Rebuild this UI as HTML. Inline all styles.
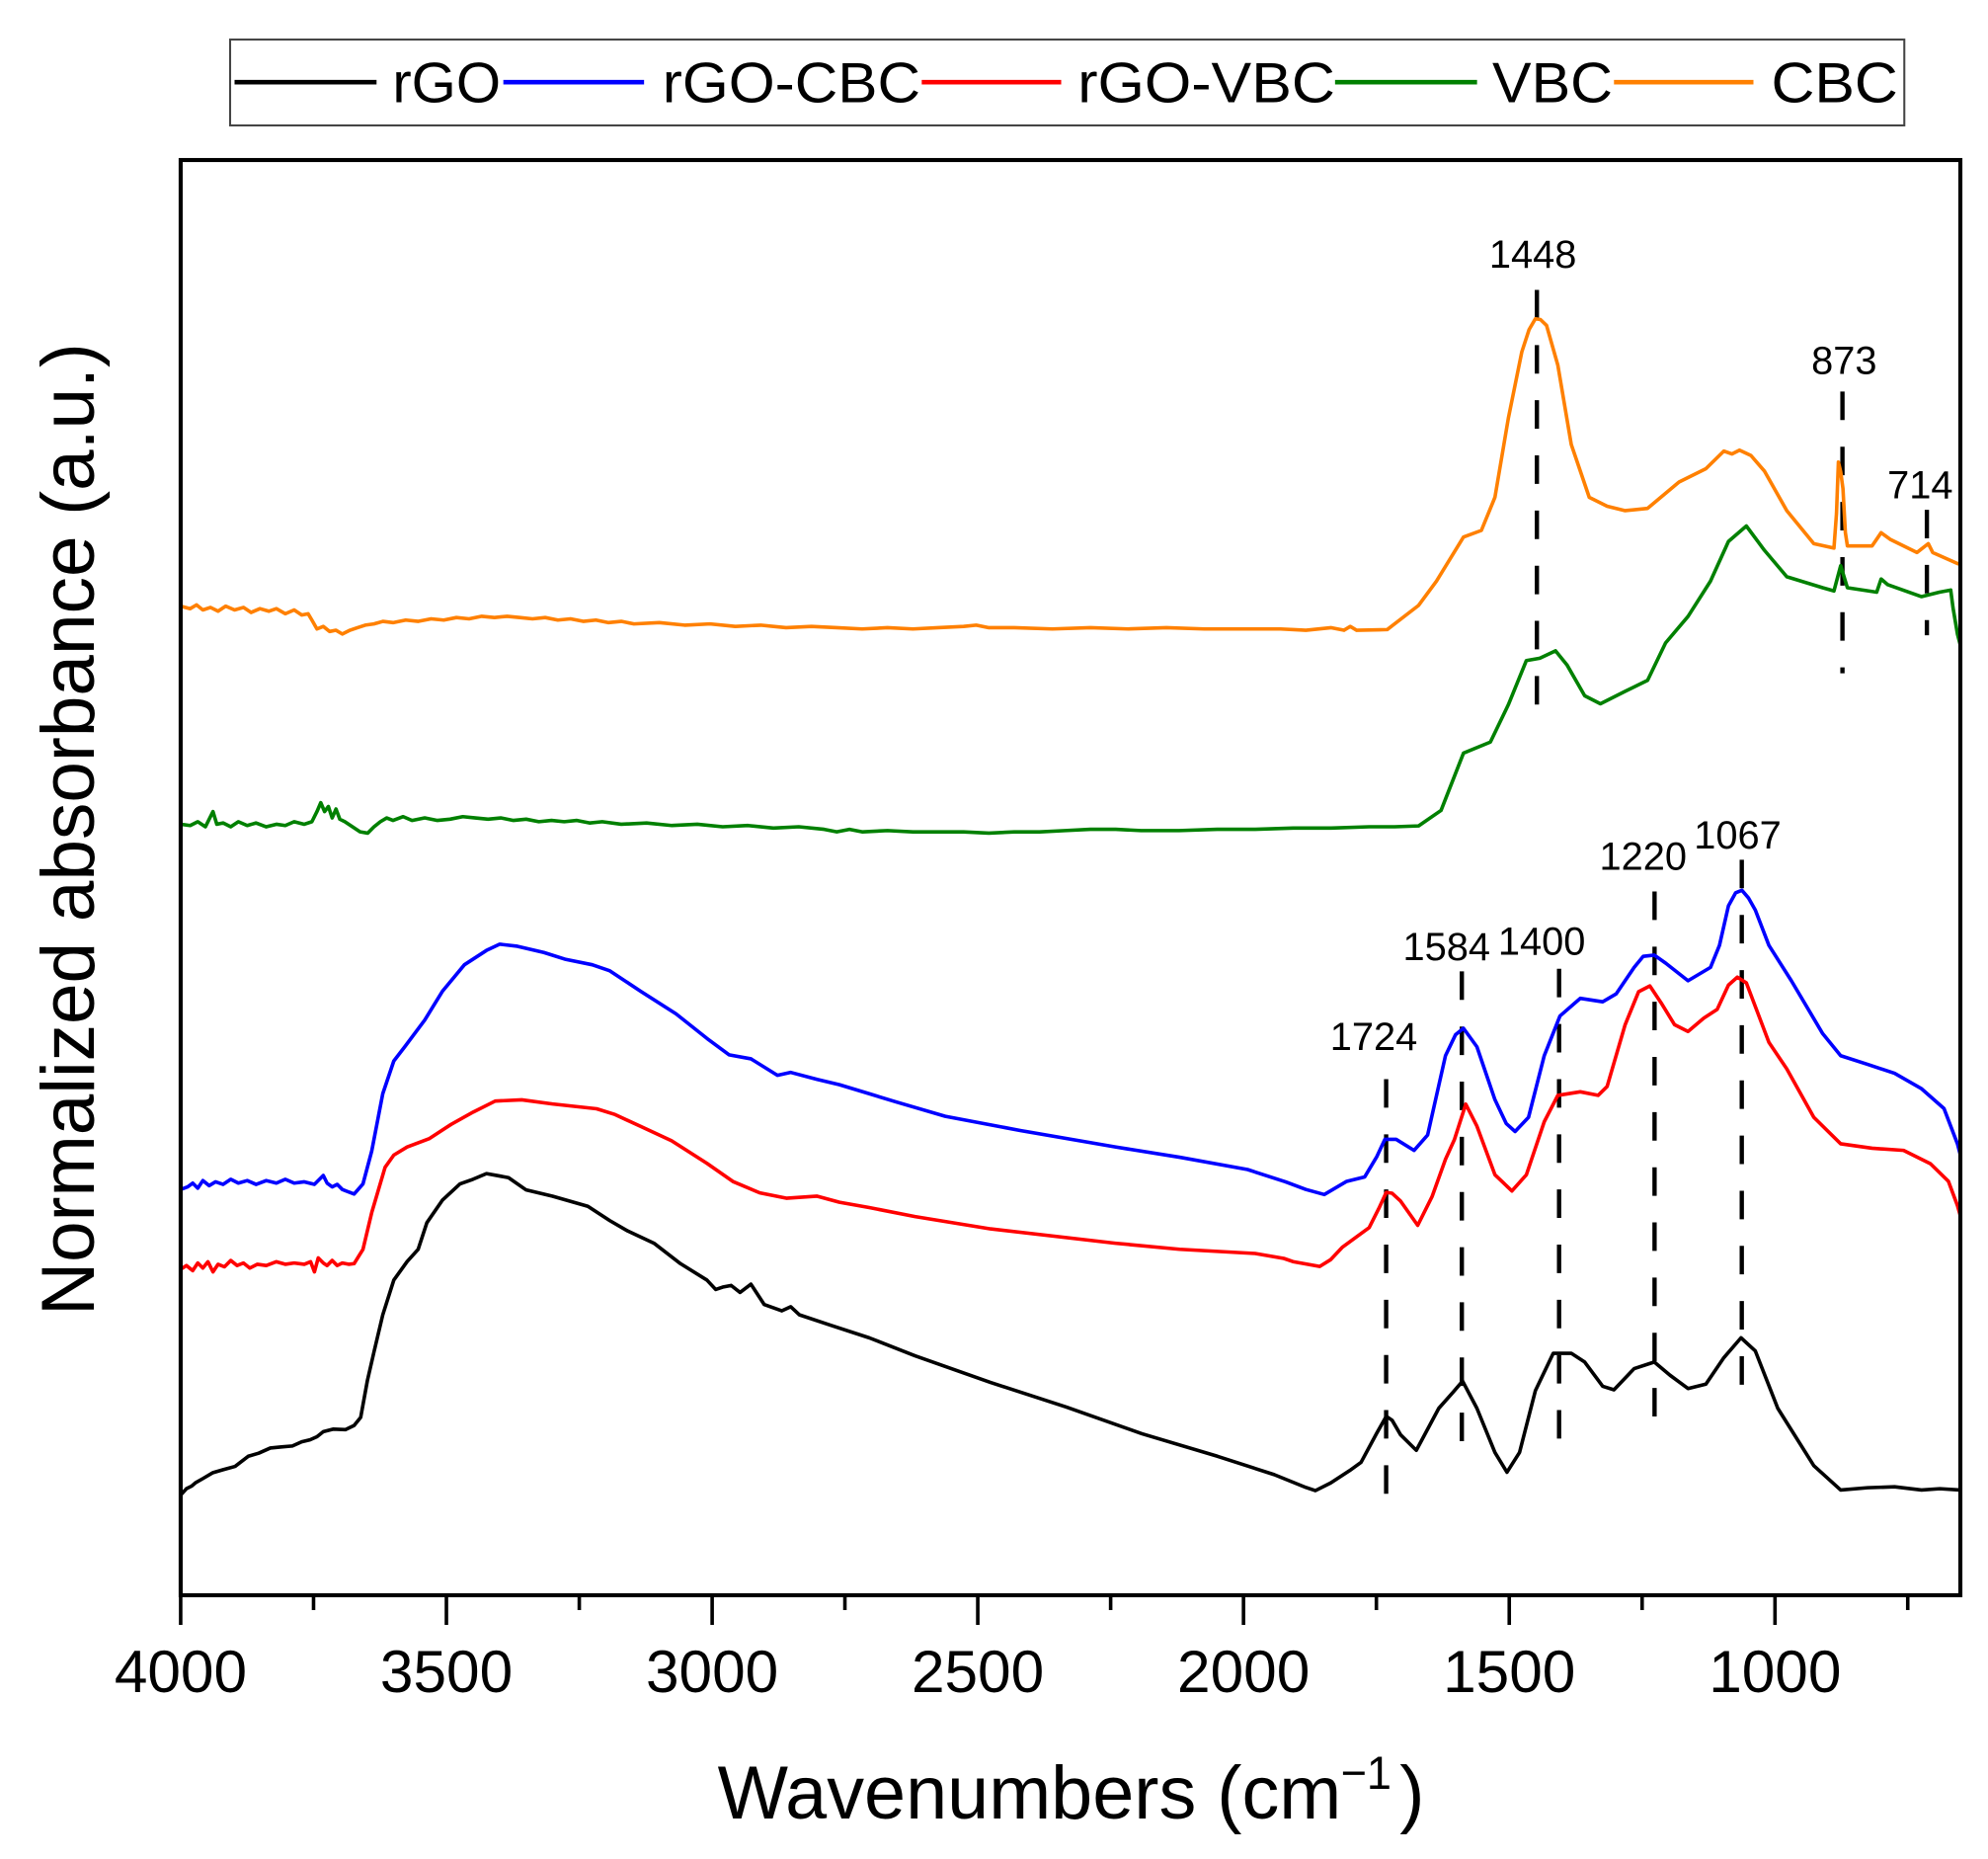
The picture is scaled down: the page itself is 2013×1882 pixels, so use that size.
<!DOCTYPE html>
<html>
<head>
<meta charset="utf-8">
<style>
  html, body { margin: 0; padding: 0; background: #ffffff; }
  svg { display: block; }
  text { font-family: "Liberation Sans", Arial, sans-serif; fill: #000; }
</style>
</head>
<body>
<svg xmlns="http://www.w3.org/2000/svg" width="2013" height="1882" viewBox="0 0 1568 1466" preserveAspectRatio="none">
  <rect x="0" y="0" width="1568" height="1466" fill="#ffffff"/>

  <!-- Legend -->
  <rect x="181.5" y="31.2" width="1320.5" height="67.7" fill="#ffffff" stroke="#444" stroke-width="1.6"/>
  <g stroke-width="3.6" stroke-linecap="butt">
    <line x1="185" y1="64.8" x2="297" y2="64.8" stroke="#000000"/>
    <line x1="397" y1="64.8" x2="508" y2="64.8" stroke="#0000ff"/>
    <line x1="727" y1="64.8" x2="837" y2="64.8" stroke="#ff0000"/>
    <line x1="1053" y1="64.8" x2="1165" y2="64.8" stroke="#008000"/>
    <line x1="1273" y1="64.8" x2="1383" y2="64.8" stroke="#ff8000"/>
  </g>
  <g font-size="45">
    <text x="309.5" y="80.5" textLength="85.5" lengthAdjust="spacingAndGlyphs">rGO</text>
    <text x="522.5" y="80.5" textLength="203.5" lengthAdjust="spacingAndGlyphs">rGO-CBC</text>
    <text x="850" y="80.5" textLength="203" lengthAdjust="spacingAndGlyphs">rGO-VBC</text>
    <text x="1177" y="80.5" textLength="95" lengthAdjust="spacingAndGlyphs">VBC</text>
    <text x="1397" y="80.5" textLength="100" lengthAdjust="spacingAndGlyphs">CBC</text>
  </g>

  <!-- Dashed peak markers -->
  <g stroke="#000" stroke-width="3.4" stroke-dasharray="22.5 21" fill="none">
    <line x1="1212.2" y1="228.6" x2="1212.2" y2="558"/>
    <line x1="1453.2" y1="308.8" x2="1453.2" y2="531"/>
    <line x1="1519.8" y1="402" x2="1519.8" y2="501"/>
    <line x1="1093.3" y1="851" x2="1093.3" y2="1181"/>
    <line x1="1153" y1="766" x2="1153" y2="1139"/>
    <line x1="1229.7" y1="764" x2="1229.7" y2="1137"/>
    <line x1="1305" y1="703" x2="1305" y2="1135"/>
    <line x1="1373.8" y1="678" x2="1373.8" y2="1096"/>
  </g>

  <!-- Peak labels -->
  <g font-size="31" text-anchor="middle">
    <text x="1209" y="211">1448</text>
    <text x="1454.5" y="295">873</text>
    <text x="1514.5" y="393">714</text>
    <text x="1296" y="686">1220</text>
    <text x="1370.5" y="669">1067</text>
    <text x="1141" y="757">1584</text>
    <text x="1216" y="753">1400</text>
    <text x="1083.5" y="828">1724</text>
  </g>

  <!-- Spectra -->
  <g fill="none" stroke-width="2.8" stroke-linejoin="round" stroke-linecap="round">
    <!-- CBC (orange) -->
    <path stroke="#ff8000" d="M142.5,478 L150,480 155,477 160,481 166,479 172,482 178,478 185,481 192,479 198,483 205,480 212,482 218,480 225,484 232,481 238,485 243,484 246,489 250,496 255,494 260,498 265,497 270,500 276,497 282,495 288,493 295,492 302,490 310,491 320,489 330,490 340,488 350,489 360,487 370,488 380,486 390,487 400,486 410,487 420,488 430,487 440,489 450,488 460,490 470,489 480,491 490,490 500,492 520,491 540,493 560,492 580,494 600,493 620,495 640,494 660,495 680,496 700,495 720,496 740,495 760,494 770,493 780,495 800,495 830,496 860,495 890,496 920,495 950,496 980,496 1010,496 1030,497 1050,495 1060,497 1065,494 1070,497 1094.1,496.5 1118.9,477.4 1133,458.3 1154.3,423.5 1168.4,418.3 1179.1,392.2 1189.7,329.7 1200.3,277.5 1206,260 1211,251.4 1215,252 1219.8,256.6 1228.7,287.9 1239.3,350.5 1253.5,392.2 1267.6,399.2 1281.8,402.7 1299.5,400.9 1324.3,380.1 1345.5,369.6 1359.7,355.7 1366,358 1372,355 1381,359.2 1391.6,371.4 1409.3,402.7 1430.6,428.7 1446.5,432.2 1448.5,405 1450,364.4 1451.8,372 1453.6,385.3 1455.5,420 1457.1,430.5 1476.6,430.5 1483.7,420.1 1490.8,425.3 1512,435.7 1520.9,428.7 1524.4,435.7 1543.9,444.4 1546,445"/>
    <!-- VBC (green) -->
    <path stroke="#008000" d="M142.5,650 L150,651 156,648 162,652 168,640 171,650 176,649 182,652 188,648 195,651 202,649 210,652 218,650 225,651 232,648 240,650 246,648 250,640 253,633 256,640 259,636 262,645 265,638 268,646 272,648 278,652 284,656 290,657 295,652 300,648 305,645 310,647 318,644 325,647 335,645 345,647 355,646 365,644 375,645 385,646 395,645 405,647 415,646 425,648 435,647 445,648 455,647 465,649 475,648 490,650 510,649 530,651 550,650 570,652 590,651 610,653 630,652 650,654 660,656 670,654 680,656 700,655 720,656 740,656 760,656 780,657 800,656 820,656 840,655 860,654 880,654 900,655 930,655 960,654 990,654 1020,653 1050,653 1080,652 1100,652 1118.9,651.3 1136.6,639.1 1154.3,593.9 1175.5,585.2 1189.7,555.7 1203.9,520.9 1214.5,519.1 1226.9,513.2 1235.9,524.3 1249.9,548.7 1262.3,555 1281.8,545.2 1299.5,536.5 1313.7,507 1331.4,486.1 1349.1,458.3 1363.3,427 1377.4,414.8 1391.6,433.9 1409.3,454.8 1437.6,463.5 1446.5,466 1451.8,446.1 1457.1,463.5 1480.2,467 1483.7,456.6 1489,461.1 1515.6,470.5 1529.7,467 1538.6,465.3 1540.4,479.2 1543.9,500 1546,508"/>
    <!-- rGO-CBC (blue) -->
    <path stroke="#0000ff" d="M142.5,938 L148,936 152,933 156,937 160,931 165,935 170,932 176,934 182,930 188,933 195,931 202,934 210,931 218,933 225,930 232,933 240,932 248,934 252,930 255,927 258,933 262,936 266,934 270,938 275,940 279.3,941.6 286.3,933.6 293.2,907.7 301.9,862.5 310.6,836.7 319.3,825.4 335,804.4 348.9,781.8 366.3,760.8 383.7,749.5 394.1,744.6 408,746.2 428.9,751.1 446.3,756.6 467.1,760.8 481,765.6 505.4,781.8 533.2,799.5 557.6,818.9 575,831.8 592.3,835 613.2,848 623.7,845.7 644.5,851.2 662.1,855.4 685.6,862.5 706.8,869 745.6,880.3 805.2,891.6 879.7,904.5 930.4,912.6 984,922.3 1013.9,932 1030,938 1044.5,942 1062.2,931.6 1076.4,928.1 1086,912 1092.3,898.5 1101.2,898.5 1115.3,907.2 1126,895.1 1140.1,832.5 1148,816 1154.3,810.9 1164.9,825.5 1179.1,867.2 1188,886 1195,892.3 1205.6,881.1 1218,832.5 1230.4,801.2 1246.4,787.3 1264.1,790 1274.7,783.8 1288.9,762.9 1296,754.2 1304.8,753.2 1313.7,759.5 1331.4,773.4 1349.1,762.9 1356.2,745.5 1363.3,714.3 1369,704 1373.9,702.1 1379,708 1384.5,717.7 1395.2,745.5 1412.9,773.4 1437.6,815.1 1451.8,832.5 1473.1,839.4 1494.3,846.4 1515.6,858.6 1533.3,874.2 1543.9,902 1546,910"/>
    <!-- rGO-VBC (red) -->
    <path stroke="#ff0000" d="M142.5,1001 L147,998 152,1002 156,996 160,1000 164,995 168,1003 172,997 177,999 182,994 187,998 192,996 197,1000 203,997 210,998 218,995 225,997 232,996 240,997 245,995 248,1003 251,992 255,996 258,998 262,994 266,998 270,996 275,997 279.3,996.5 286.3,985.2 293.2,956.2 303.7,920.6 310.6,910.9 321.1,904.5 338.4,898 355.8,886.7 373.2,877 390.6,868.3 411.5,867.3 435.8,870.6 470.6,874.4 484.5,878.7 505.4,888.3 529.7,899.6 557.6,917.4 578.4,931.9 599.3,940.7 620.2,944.9 644.5,943.3 662.1,948.1 685.6,952.3 721.7,959.4 781.3,969.1 879.7,980.4 930.4,985.2 990,988.5 1012.6,992.4 1019.8,994.9 1040.9,998.7 1049.6,993.3 1058.6,983.7 1079.9,968.1 1088,952 1093.4,940.3 1098,941 1104.7,947.2 1118.2,966.3 1129.5,943.7 1140.1,914.2 1147.2,898.5 1156.1,870.7 1164.9,888.1 1179.1,926.4 1192.5,939.2 1203.9,926.4 1218,884.6 1228.7,863.8 1246.4,861 1260.5,863.8 1267.6,856.8 1281.8,808.1 1292.4,782.1 1301.3,777.5 1310.1,790.7 1320.8,808.1 1331.4,813.4 1343.8,802.9 1354.4,796 1363.3,776.8 1370.3,770.6 1377.4,775.1 1395.2,822 1409.3,842.9 1430.6,881.1 1451.8,902 1476.6,905.5 1501.4,907.2 1522.6,917.7 1536.8,931.6 1543.9,950.7 1546,958"/>
    <!-- rGO (black) -->
    <path stroke="#000000" d="M142.5,1179 L147,1174 151,1172 154.1,1169.4 160,1166 168,1161.3 176,1159 185.4,1156.4 195.8,1148.4 204,1146 213.2,1141.9 222,1141 230.6,1140.3 238,1137 244.5,1135.4 250,1133 255,1129 263,1127 272.4,1127.4 279.3,1124.1 284.5,1117.7 289.8,1088.6 295,1066 301.9,1036.9 310.6,1009.5 321.1,994.9 329.8,985.2 336.7,964.2 348.9,946.5 362.8,933.6 373,930 383.7,925.5 392,927 401.1,928.7 415,938.4 435.8,943.3 463.7,951.3 481,962.6 495,970.7 515.8,980.4 536.7,996.5 557.6,1009.5 564.5,1016.9 570,1015 576.7,1013.7 583.7,1019.2 592.3,1012.7 602.8,1028.8 616.7,1033.7 623.7,1030.5 630.6,1036.9 655,1045 685.6,1055 721.7,1069.2 781.3,1090.2 841,1109.6 900.6,1130.6 960.2,1148.4 1005,1162.9 1030,1173 1037.5,1175.5 1049.6,1169.4 1064.5,1159.7 1073.5,1153.2 1086,1130 1093.4,1116.9 1098,1120 1104.7,1131.5 1117.1,1143.7 1134.8,1110.6 1146,1098 1153.6,1089.1 1164.9,1110.6 1179.1,1145.4 1188.6,1161 1198.5,1145.4 1211,1096.7 1225.1,1067.2 1239.3,1067.2 1249.9,1074.1 1264.1,1093.2 1273,1096 1288.9,1079.3 1304.8,1074.1 1317.2,1084.5 1331.4,1095 1345.5,1091.5 1359.7,1070.6 1373.2,1055 1384.5,1065.4 1402.2,1110.6 1430.6,1155.8 1451.8,1175 1473.1,1173.2 1494.3,1172.5 1515.6,1175 1530,1174 1546,1175"/>
  </g>

  <!-- Plot frame -->
  <rect x="142.5" y="126.2" width="1403.7" height="1131.8" fill="none" stroke="#000" stroke-width="3.2"/>

  <!-- X ticks -->
  <g stroke="#000" stroke-width="2.8">
    <line x1="142.5" y1="1258" x2="142.5" y2="1281.4"/>
    <line x1="352.1" y1="1258" x2="352.1" y2="1281.4"/>
    <line x1="561.7" y1="1258" x2="561.7" y2="1281.4"/>
    <line x1="771.2" y1="1258" x2="771.2" y2="1281.4"/>
    <line x1="980.8" y1="1258" x2="980.8" y2="1281.4"/>
    <line x1="1190.4" y1="1258" x2="1190.4" y2="1281.4"/>
    <line x1="1400" y1="1258" x2="1400" y2="1281.4"/>
    <line x1="247.3" y1="1258" x2="247.3" y2="1269.7"/>
    <line x1="456.9" y1="1258" x2="456.9" y2="1269.7"/>
    <line x1="666.4" y1="1258" x2="666.4" y2="1269.7"/>
    <line x1="876" y1="1258" x2="876" y2="1269.7"/>
    <line x1="1085.6" y1="1258" x2="1085.6" y2="1269.7"/>
    <line x1="1295.2" y1="1258" x2="1295.2" y2="1269.7"/>
    <line x1="1504.7" y1="1258" x2="1504.7" y2="1269.7"/>
  </g>

  <!-- X tick labels -->
  <g font-size="47" text-anchor="middle">
    <text x="142.5" y="1334.3">4000</text>
    <text x="352.1" y="1334.3">3500</text>
    <text x="561.7" y="1334.3">3000</text>
    <text x="771.2" y="1334.3">2500</text>
    <text x="980.8" y="1334.3">2000</text>
    <text x="1190.4" y="1334.3">1500</text>
    <text x="1400" y="1334.3">1000</text>
  </g>

  <!-- Axis titles -->
  <text x="566" y="1434" font-size="59" textLength="492" lengthAdjust="spacingAndGlyphs">Wavenumbers (cm</text>
  <text x="1057.5" y="1410.7" font-size="37" textLength="40" lengthAdjust="spacingAndGlyphs">−1</text>
  <text x="1104" y="1434" font-size="59">)</text>

  <text transform="translate(74,1037.5) rotate(-90)" font-size="59" textLength="767" lengthAdjust="spacingAndGlyphs">Normalized absorbance (a.u.)</text>
</svg>
</body>
</html>
